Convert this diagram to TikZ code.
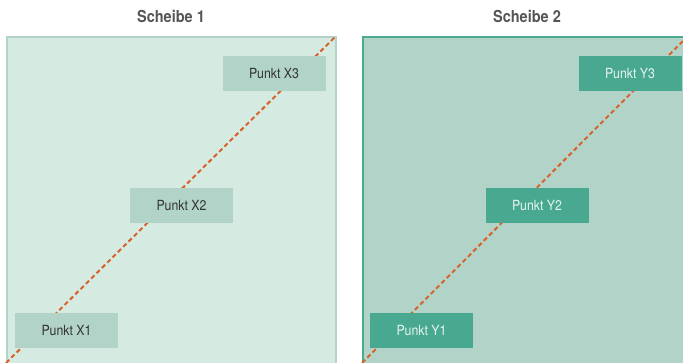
\documentclass[tikz,border=0pt]{standalone}
\usepackage{fontspec}
\setsansfont{TeX Gyre Heros}[FakeStretch=0.88]
\usepackage{xcolor}
\usepackage{tikz}
\usetikzlibrary{positioning}
\definecolor{paleA}{HTML}{D5EAE1}
\definecolor{edgeA}{HTML}{B3D3C7}
\definecolor{paleB}{HTML}{B2D4C8}
\definecolor{edgeB}{HTML}{4BAA91}
\definecolor{boxB}{HTML}{48A990}
\definecolor{textB}{HTML}{E6F4EF}
\definecolor{dashcol}{HTML}{D9622B}
\definecolor{titlecol}{HTML}{555555}
\tikzset{
  punkt/.style={minimum width=103pt, minimum height=35pt, inner sep=0pt,
                font=\sffamily\fontsize{14}{16}\selectfont},
}

\begin{document}
\begin{tikzpicture}[x=1pt, y=-1pt,
              panelA/.style={fill=paleA, draw=edgeA, line width=2pt},
              panelB/.style={fill=paleB, draw=edgeB, line width=2pt},
              punktA/.style={punkt, fill=paleB, text=black!80},
              punktB/.style={punkt, fill=boxB, text=textB},
              diag/.style={dashcol, line width=2pt, dash pattern=on 4.5pt off 3pt},
              titel/.style={font=\sffamily\bfseries\fontsize{16.5}{18}\selectfont, text=titlecol},
             ]
\useasboundingbox (0,0) rectangle (683,363);
\clip (0,0) rectangle (683,363);
% titles
\node[titel] (t1) at (171,16) {Scheibe 1};
\node[titel] (t2) at (527,16) {Scheibe 2};
% slices
\draw[panelA] (7,37) rectangle (336,380);
\draw[panelB] (363,37) rectangle (700,380);
% diagonals
\coordinate (a0) at (6,363);
\coordinate (a1) at (335,37);
\coordinate (b0) at (362,363);
\coordinate (b1) at (683,41);
\draw[diag] (a0) -- (a1);
\draw[diag] (b0) -- (b1);
% points
\node[punktA] (x3) at (274,73.5) {Punkt X3};
\node[punktA] (x2) at (181.5,205.5) {Punkt X2};
\node[punktA] (x1) at (66.5,331) {Punkt X1};
\node[punktB] (y3) at (630,73.5) {Punkt Y3};
\node[punktB] (y2) at (537,205.5) {Punkt Y2};
\node[punktB] (y1) at (421.5,331) {Punkt Y1};
\end{tikzpicture}
\end{document}
